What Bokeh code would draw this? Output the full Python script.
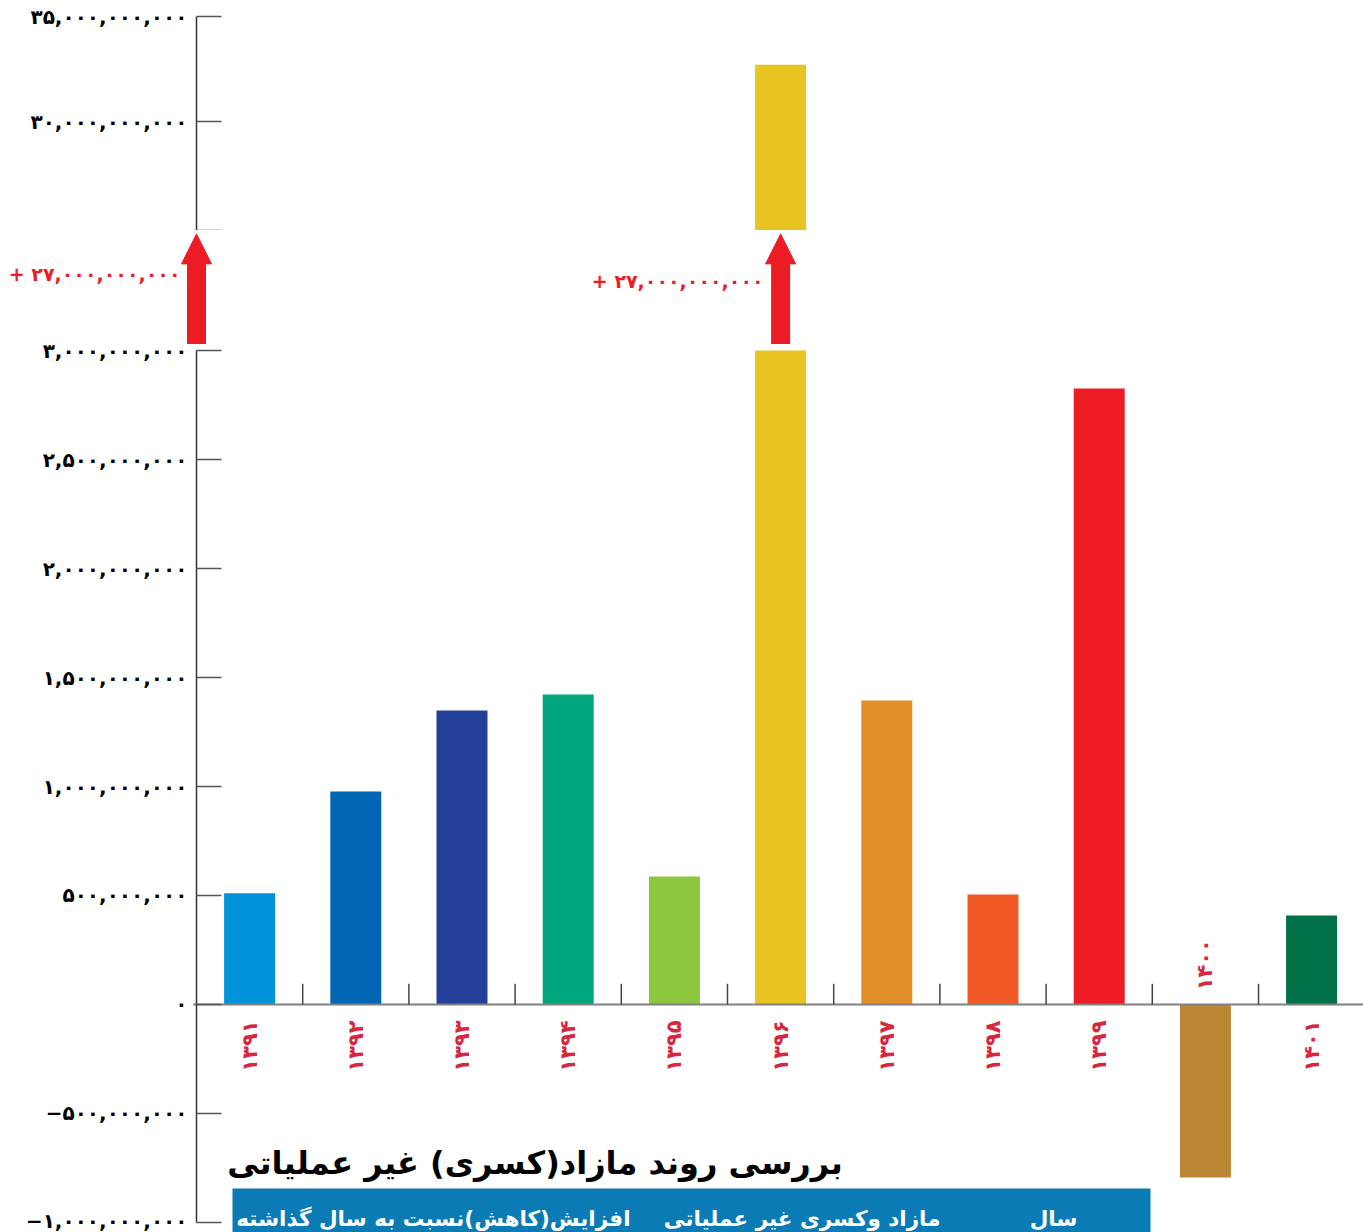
import math
from bokeh.plotting import figure
from bokeh.layouts import column
from bokeh.models import Range1d, FixedTicker, Arrow, NormalHead, Label
from bokeh.core.properties import value
from bokeh.embed import file_html
from bokeh.resources import INLINE

# ---------------- data ----------------
years = ["۱۳۹۱", "۱۳۹۲", "۱۳۹۳", "۱۳۹۴", "۱۳۹۵", "۱۳۹۶", "۱۳۹۷", "۱۳۹۸", "۱۳۹۹", "۱۴۰۰", "۱۴۰۱"]
values = [0.51e9, 0.977e9, 1.349e9, 1.422e9, 0.587e9, 32.7e9, 1.394e9, 0.505e9, 2.826e9, -0.794e9, 0.408e9]
colors = ["#0093d9", "#0066b3", "#233f99", "#00a67e", "#8dc63f", "#e8c420",
          "#e08e28", "#f15a24", "#ed1c24", "#bc8735", "#007046"]

lower_ticks = [-1e9, -0.5e9, 0.0, 0.5e9, 1e9, 1.5e9, 2e9, 2.5e9, 3e9]
lower_tick_labels = ["−۱,۰۰۰,۰۰۰,۰۰۰", "−۵۰۰,۰۰۰,۰۰۰", "۰", "۵۰۰,۰۰۰,۰۰۰", "۱,۰۰۰,۰۰۰,۰۰۰",
                     "۱,۵۰۰,۰۰۰,۰۰۰", "۲,۰۰۰,۰۰۰,۰۰۰", "۲,۵۰۰,۰۰۰,۰۰۰", "۳,۰۰۰,۰۰۰,۰۰۰"]
upper_start = 24.81e9
upper_top = 35e9
upper_ticks = [upper_start, 30e9, 35e9]
upper_tick_labels = ["", "۳۰,۰۰۰,۰۰۰,۰۰۰", "۳۵,۰۰۰,۰۰۰,۰۰۰"]
break_low = 3e9
break_offset_label = "+ ۲۷,۰۰۰,۰۰۰,۰۰۰"
title_text = "بررسی روند مازاد(کسری)  غیر عملیاتی"
header_texts = ["سال", "مازاد وکسری غیر عملیاتی", "افزایش(کاهش)نسبت به سال گذاشته"]

# ---------------- layout constants ----------------
W = 1363
AXIS_PX = 196          # page x of the y axis
CAT_PX = 106.2         # pixels per category
xs = list(range(1, len(years) + 1))
x_start = 0.5 - AXIS_PX / CAT_PX
x_end = 0.5 + (W - AXIS_PX) / CAT_PX
FONT = "DejaVu Sans"
RED = "#ed1c24"
LABEL_RED = "#d7263d"


def px_to_x(px):
    return 0.5 + (px - AXIS_PX) / CAT_PX


def style_axis(p, ticks, labels, bounds):
    ax = p.yaxis[0]
    ax.fixed_location = 0.5
    ax.ticker = FixedTicker(ticks=ticks)
    ax.major_label_overrides = {t: l for t, l in zip(ticks, labels)}
    ax.bounds = bounds
    ax.axis_line_color = "#333333"
    ax.axis_line_width = 1.5
    ax.major_tick_in = 25
    ax.major_tick_out = 0
    ax.major_tick_line_color = "#555555"
    ax.major_tick_line_width = 1.5
    ax.minor_tick_line_color = None
    ax.major_label_text_font = FONT
    ax.major_label_text_font_style = "bold"
    ax.major_label_text_font_size = "20px"
    ax.major_label_text_color = "#000000"
    ax.major_label_standoff = 9
    p.xaxis.visible = False
    p.xgrid.visible = False
    p.ygrid.visible = False
    p.outline_line_color = None


x_range = Range1d(x_start, x_end)

# ---------------- upper panel (page y 0..230) ----------------
top = figure(width=W, height=230, x_range=x_range,
             y_range=Range1d(upper_start, upper_top + 16 / 105 * 5e9),
             output_backend="svg", toolbar_location=None,
             min_border_left=0, min_border_right=0, min_border_top=0, min_border_bottom=0)
style_axis(top, upper_ticks, upper_tick_labels, (upper_start, upper_top))
up_x = [x for x, v in zip(xs, values) if v > break_low]
up_v = [v for v in values if v > break_low]
up_c = [c for c, v in zip(colors, values) if v > break_low]
top.vbar(x=up_x, top=up_v, bottom=upper_start, width=0.48, fill_color=up_c, line_color=None)

# ---------------- lower panel (page y 230..1232) ----------------
low = figure(width=W, height=1002, x_range=x_range, y_range=Range1d(-1.0459e9, 3.5505e9),
             output_backend="svg", toolbar_location=None,
             min_border_left=0, min_border_right=0, min_border_top=0, min_border_bottom=0)
style_axis(low, lower_ticks, lower_tick_labels, (-1e9, 3e9))

low_top = [min(v, break_low) for v in values]
low.vbar(x=xs, top=low_top, bottom=0, width=0.48, fill_color=colors, line_color=None)

# zero line and category separators
low.segment(x0=[0.47], x1=[x_end], y0=[0], y1=[0], line_color="#808080", line_width=2)
bounds_x = [x + 0.5 for x in xs[:-1]]
low.segment(x0=bounds_x, x1=bounds_x, y0=[0] * len(bounds_x), y1=[0.095e9] * len(bounds_x),
            line_color="#444444", line_width=1.5)

# rotated year labels
lab_y = [-0.073e9 if v >= 0 else 0.30e9 for v in values]
low.text(x=xs, y=lab_y, text=years, angle=math.pi / 2, text_align="right", text_baseline="middle",
         text_color=LABEL_RED, text_font=value(FONT), text_font_style="bold", text_font_size="21px")

# break arrows and labels
big_x = xs[values.index(max(values))]
for ax_x, xoff, ly in [(0.5, -16, 3.353e9), (big_x, -17, 3.317e9)]:
    low.add_layout(Arrow(x_start=ax_x, y_start=3.03e9, x_end=ax_x, y_end=3.535e9,
                         line_color=RED, line_width=19,
                         end=NormalHead(size=30, fill_color=RED, line_color=RED, line_width=1)))
    low.add_layout(Label(x=ax_x, y=ly, x_offset=xoff, text=break_offset_label,
                         text_align="right", text_baseline="middle", text_color=RED,
                         text_font=FONT, text_font_style="bold", text_font_size="19px"))

# title and blue header band
low.add_layout(Label(x=px_to_x(540), y=-0.725e9, text=title_text,
                     text_align="center", text_baseline="middle",
                     text_color="#000000", text_font=FONT, text_font_style="bold", text_font_size="32px"))
low.quad(left=[px_to_x(232)], right=[px_to_x(1150)],
         top=[-0.844e9], bottom=[-1.3e9], fill_color="#0b7bb5", line_color=None)
hx = [px_to_x(px) for px in (1077, 940, 630)]
low.text(x=hx, y=[-0.925e9] * 3, text=header_texts, text_align="right",
         text_baseline="top", text_color="#ffffff", text_font=value(FONT), text_font_style="bold",
         text_font_size="21.5px")

p = column(top, low, spacing=0)
open("out.html", "w").write(file_html(p, INLINE))
